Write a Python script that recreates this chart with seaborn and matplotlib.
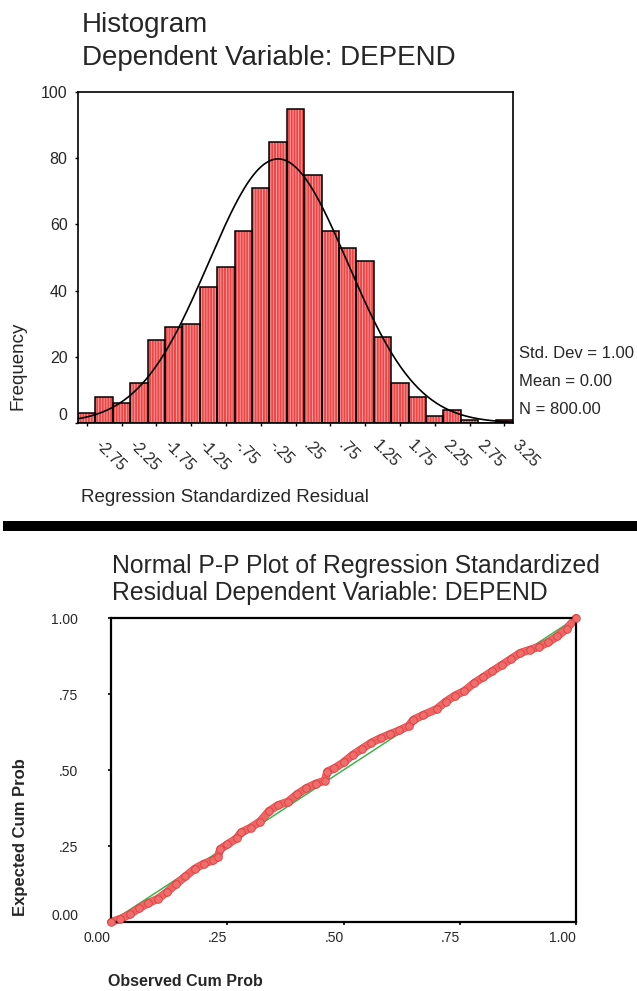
import numpy as np
import pandas as pd
import seaborn as sns
import matplotlib.pyplot as plt
import matplotlib.patheffects as pe
from matplotlib.patches import Rectangle
from matplotlib.transforms import ScaledTranslation

# Histogram of standardized residuals (bin centres + counts)
bin_centers = [-2.75, -2.50, -2.25, -2.00, -1.75, -1.50, -1.25, -1.00, -0.75,
               -0.50, -0.25, 0.00, 0.25, 0.50, 0.75, 1.00, 1.25, 1.50, 1.75,
               2.00, 2.25, 2.50, 2.75, 3.00, 3.25]
counts = [3, 8, 6, 12, 25, 29, 30, 41, 47, 58, 71, 85, 95, 75, 58, 53, 49, 26,
          12, 8, 2, 4, 1, 0, 1]
bin_width = 0.25
x_tick_pos = [-2.75, -2.25, -1.75, -1.25, -0.75, -0.25, 0.25, 0.75, 1.25, 1.75,
              2.25, 2.75, 3.25]
x_tick_labels = ['-2.75', '-2.25', '-1.75', '-1.25', '-.75', '-.25', '.25',
                 '.75', '1.25', '1.75', '2.25', '2.75', '3.25']
std_dev = 1.00
mean = 0.00
n_obs = 800

# Normal P-P plot (observed vs expected cumulative probability)
observed = [0.00, 0.02, 0.04, 0.06, 0.08, 0.10, 0.12, 0.14, 0.16, 0.18, 0.20,
            0.22, 0.23, 0.235, 0.25, 0.27, 0.28, 0.30, 0.32, 0.34, 0.36, 0.38,
            0.40, 0.42, 0.44, 0.46, 0.465, 0.48, 0.50, 0.52, 0.54, 0.56, 0.58,
            0.60, 0.62, 0.64, 0.65, 0.67, 0.70, 0.72, 0.74, 0.76, 0.78, 0.80,
            0.82, 0.84, 0.86, 0.88, 0.90, 0.92, 0.94, 0.96, 0.98, 1.00]
expected = [0.00, 0.01, 0.025, 0.045, 0.062, 0.076, 0.098, 0.125, 0.15, 0.175,
            0.192, 0.203, 0.215, 0.24, 0.255, 0.275, 0.295, 0.31, 0.33, 0.365,
            0.385, 0.395, 0.42, 0.44, 0.455, 0.465, 0.495, 0.505, 0.525, 0.55,
            0.57, 0.59, 0.605, 0.618, 0.63, 0.645, 0.665, 0.68, 0.70, 0.725,
            0.745, 0.76, 0.785, 0.805, 0.825, 0.845, 0.865, 0.885, 0.895,
            0.905, 0.92, 0.94, 0.965, 1.00]
pp_ticks = [0.0, 0.25, 0.5, 0.75, 1.0]
pp_tick_labels = ['0.00', '.25', '.50', '.75', '1.00']

sns.set_style('white')
plt.rcParams['font.family'] = ['Liberation Sans', 'DejaVu Sans']
plt.rcParams['hatch.linewidth'] = 0.6

W, H = 637, 991
fig = plt.figure(figsize=(W / 100, H / 100), dpi=100)


def fx(x):
    return x / W


def fy(y):
    return 1 - y / H


def px_shift(dx, dy):
    return ScaledTranslation(dx / 100, -dy / 100, fig.dpi_scale_trans)


# ---------------- histogram ----------------
ax1 = fig.add_axes([fx(78), fy(423), (513 - 78) / W, (423 - 92) / H])
df_hist = pd.DataFrame({'resid': bin_centers, 'count': counts})
edges = [c - bin_width / 2 for c in bin_centers] + [bin_centers[-1] + bin_width / 2]

sns.histplot(data=df_hist, x='resid', weights='count', bins=edges, ax=ax1,
             color='#EE4646', alpha=1, edgecolor='#F9A6A6', linewidth=0,
             hatch='||||||')
sns.histplot(data=df_hist, x='resid', weights='count', bins=edges, ax=ax1,
             fill=False, color='black', linewidth=1.1)

# fitted normal curve from the reported stats
curve_x = np.linspace(edges[0], edges[-1], 300)
curve_y = n_obs * bin_width * np.exp(-0.5 * ((curve_x - mean) / std_dev) ** 2) / (std_dev * np.sqrt(2 * np.pi))
sns.lineplot(x=curve_x, y=curve_y, color='black', linewidth=1.2, ax=ax1)

ax1.set_xlim(edges[0], edges[-1])
ax1.set_ylim(0, 100)
ax1.set_yticks([0, 20, 40, 60, 80, 100])
ax1.set_xticks(x_tick_pos)
ax1.set_xticklabels(x_tick_labels, rotation=-45, ha='left', va='top',
                    rotation_mode='default')
ax1.set_xlabel('')
ax1.set_ylabel('')
ax1.tick_params(axis='both', direction='out', length=2.5, width=1,
                color='black', labelsize=11.5, bottom=True, left=True)
ax1.tick_params(axis='x', pad=8)
ax1.tick_params(axis='y', pad=5)
for s in ax1.spines.values():
    s.set_visible(True)
    s.set_color('black')
    s.set_linewidth(1.2)

for lab in ax1.get_xticklabels():
    lab.set_transform(lab.get_transform() + px_shift(5, 0))
ax1.get_yticklabels()[0].set_transform(ax1.get_yticklabels()[0].get_transform() + px_shift(0, -9))

fig.text(fx(82), fy(32), 'Histogram', fontsize=20, va='baseline')
fig.text(fx(82), fy(65), 'Dependent Variable: DEPEND', fontsize=20, va='baseline')
fig.text(fx(18), fy(366), 'Frequency', fontsize=13.5, rotation=90,
         ha='center', va='center')
fig.text(fx(81), fy(498), 'Regression Standardized Residual', fontsize=13.5,
         va='center')
fig.text(fx(519), fy(353), 'Std. Dev = %.2f' % std_dev, fontsize=12, va='center')
fig.text(fx(519), fy(381), 'Mean = %.2f' % mean, fontsize=12, va='center')
fig.text(fx(519), fy(409), 'N = %.2f' % n_obs, fontsize=12, va='center')

# separator bar
fig.add_artist(Rectangle((fx(3), fy(531)), (W - 3) / W, 10 / H,
                         transform=fig.transFigure, color='black', lw=0))

# ---------------- P-P plot ----------------
ax2 = fig.add_axes([fx(111), fy(922), (576 - 111) / W, (922 - 618) / H])
df_pp = pd.DataFrame({'observed': observed, 'expected': expected})

sns.lineplot(x=[0, 1], y=[0, 1], color='#3DB54A', linewidth=1.1, ax=ax2)
sns.lineplot(data=df_pp, x='observed', y='expected', color='#F06464',
             linewidth=5.0, sort=False, clip_on=False, ax=ax2,
             path_effects=[pe.Stroke(linewidth=5.8, foreground='#DA4848'),
                           pe.Normal()])
sns.scatterplot(data=df_pp, x='observed', y='expected', s=30,
                color='#F26C6C', edgecolor='#D84040', linewidth=0.6,
                clip_on=False, ax=ax2, zorder=3)

ax2.set_xlim(0, 1)
ax2.set_ylim(0, 1)
ax2.set_xticks(pp_ticks)
ax2.set_yticks(pp_ticks)
ax2.set_xticklabels(pp_tick_labels, ha='right')
ax2.set_yticklabels(pp_tick_labels)
ax2.set_xlabel('')
ax2.set_ylabel('')
ax2.tick_params(axis='both', direction='out', length=2.5, width=1.2,
                color='black', labelsize=10, bottom=True, left=True)
ax2.tick_params(axis='x', pad=4)
ax2.tick_params(axis='y', pad=21)
for s in ax2.spines.values():
    s.set_visible(True)
    s.set_color('black')
    s.set_linewidth(1.6)
ax2.get_yticklabels()[0].set_transform(ax2.get_yticklabels()[0].get_transform() + px_shift(0, -8))

fig.text(fx(112), fy(573), 'Normal P-P Plot of Regression Standardized',
         fontsize=17.8, va='baseline')
fig.text(fx(112), fy(600), 'Residual Dependent Variable: DEPEND',
         fontsize=17.8, va='baseline')
fig.text(fx(21), fy(837), 'Expected Cum Prob', fontsize=12, fontweight='bold',
         rotation=90, ha='center', va='center')
fig.text(fx(108), fy(982), 'Observed Cum Prob', fontsize=11.5,
         fontweight='bold', va='center')

fig.savefig('out.png', dpi=100)
